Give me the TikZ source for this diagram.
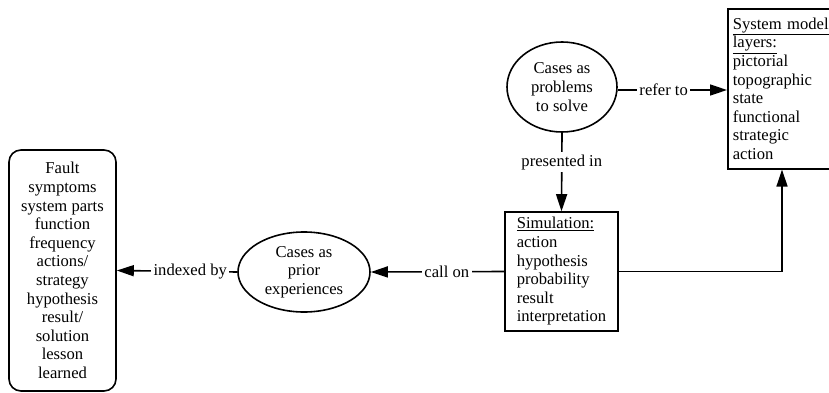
\documentclass[tikz,border=0pt]{standalone}
\usepackage{fontspec}
\setmainfont{Liberation Serif}
\usetikzlibrary{arrows.meta,shapes.geometric}
\begin{document}
\begin{tikzpicture}[x=1pt,y=-1pt,
  every node/.style={font=\fontsize{16.6}{18.6}\selectfont},
  conn/.style={line width=1.6pt,-{Triangle[length=17pt,width=11pt]}},
  lbl/.style={fill=white,inner sep=2.5pt},
  oval/.style={draw,ellipse,line width=1.6pt,inner sep=0pt,align=center},
  plainbox/.style={draw,line width=1.6pt,align=left,inner sep=4pt}]
\clip (0,0) rectangle (829,393);
\useasboundingbox (0,0) rectangle (829,393);

% knowledge indexes
\node[draw,line width=1.6pt,rounded corners=12pt,minimum width=107pt,minimum height=241pt,
      align=center,inner sep=0pt] (fault) at (62.5,270.5)
  {Fault\\symptoms\\system parts\\function\\frequency\\actions/\\strategy\\hypothesis\\result/\\solution\\lesson\\learned};

% case ellipses
\node[oval,minimum width=132pt,minimum height=80pt] (prior) at (304,272)
  {Cases as\\prior\\experiences};
\node[oval,minimum width=110pt,minimum height=90pt] (problems) at (562,87)
  {Cases as\\problems\\to solve};

% simulation box
\node[plainbox,minimum width=113pt,minimum height=119pt] (sim) at (561.5,271.5)
  {\underline{Simulation:}\\action\\hypothesis\\probability\\result\\interpretation};

% system model box, running off past the right edge
\node[plainbox,anchor=north west,minimum width=130pt,minimum height=160pt,
      text width=120pt,inner xsep=2pt,inner ysep=3pt] (sys) at (727,8)
  {\underline{System model}\\\underline{layers:}\\pictorial\\topographic\\state\\functional\\strategic\\action};

% connectors
\draw[conn] (prior.west) -- node[lbl,pos=0.39] {indexed by} (fault.east);
\draw[conn] (sim.west) -- node[lbl,pos=0.43] {call on} (prior.east);
\draw[conn] (problems.south) -- node[lbl,pos=0.375] {presented in} (sim.north);
\draw[conn] (problems.east |- 0,90) -- node[lbl,pos=0.42] {refer to} (sys.west |- 0,90);
\coordinate (up) at ([xshift=55pt]sys.south west);
\draw[conn] (sim.east) -| (up);
\end{tikzpicture}
\end{document}
